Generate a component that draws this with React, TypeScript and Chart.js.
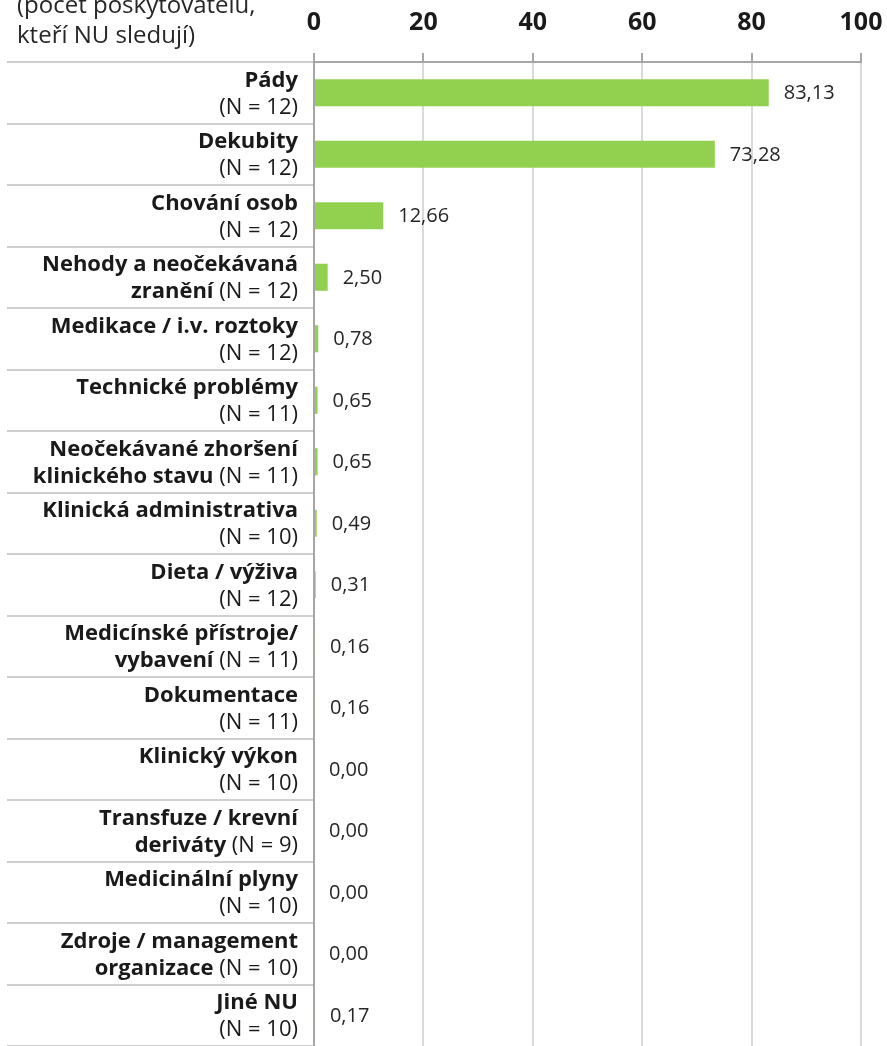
import { useEffect, useRef } from "react";
import { Chart, registerables } from "chart.js";

Chart.register(...registerables);

// ---- data ----
const titleLines = ["(počet poskytovatelů,", "kteří NU sledují)"];
const boldLine1 = [
  "Pády",
  "Dekubity",
  "Chování osob",
  "Nehody a neočekávaná",
  "Medikace / i.v. roztoky",
  "Technické problémy",
  "Neočekávané zhoršení",
  "Klinická administrativa",
  "Dieta / výživa",
  "Medicínské přístroje/",
  "Dokumentace",
  "Klinický výkon",
  "Transfuze / krevní",
  "Medicinální plyny",
  "Zdroje / management",
  "Jiné NU",
];
const boldLine2 = [
  "",
  "",
  "",
  "zranění",
  "",
  "",
  "klinického stavu",
  "",
  "",
  "vybavení",
  "",
  "",
  "deriváty",
  "",
  "organizace",
  "",
];
const providerCounts = [12, 12, 12, 12, 12, 11, 11, 10, 12, 11, 11, 10, 9, 10, 10, 10];
const rates = [83.13, 73.28, 12.66, 2.5, 0.78, 0.65, 0.65, 0.49, 0.31, 0.16, 0.16, 0.0, 0.0, 0.0, 0.0, 0.17];
const xMin = 0;
const xMax = 100;
const xStep = 20;

const FONT = "'Open Sans'";
const TEXT = "#1a1a1a";
const LABEL_SIZE = 22;

const textPlugin = {
  id: "customText",
  afterDraw(chart: any) {
    const ctx = chart.ctx as CanvasRenderingContext2D;
    const yScale = chart.scales.y;
    ctx.save();
    ctx.fillStyle = "#262626";
    ctx.textAlign = "left";
    ctx.textBaseline = "alphabetic";
    ctx.font = `24px ${FONT}`;
    ctx.fillText(titleLines[0], 17, 13);
    ctx.fillText(titleLines[1], 17, 43);

    ctx.fillStyle = TEXT;
    const right = 298;
    boldLine1.forEach((l1, i) => {
      const c = yScale.getPixelForValue(i);
      const nText = `(N = ${providerCounts[i]})`;
      const lines: [string, boolean][][] = [
        [[l1, true]],
        boldLine2[i] ? [[boldLine2[i], true], [" " + nText, false]] : [[nText, false]],
      ];
      lines.forEach((segs, li) => {
        const base = c + (li === 0 ? -6 : 21);
        let total = 0;
        const widths = segs.map(([t, b]) => {
          ctx.font = `${b ? "bold " : ""}${LABEL_SIZE}px ${FONT}`;
          const w = ctx.measureText(t).width;
          total += w;
          return w;
        });
        let x = right - total;
        segs.forEach(([t, b], k) => {
          ctx.font = `${b ? "bold " : ""}${LABEL_SIZE}px ${FONT}`;
          ctx.fillText(t, x, base);
          x += widths[k];
        });
      });
    });

    // value labels
    const meta = chart.getDatasetMeta(0);
    ctx.font = `20px ${FONT}`;
    ctx.fillStyle = "#262626";
    ctx.textBaseline = "middle";
    meta.data.forEach((bar: any, i: number) => {
      const label = rates[i].toFixed(2).replace(".", ",");
      ctx.fillText(label, bar.x + 15, bar.y + 1);
    });
    ctx.restore();
  },
};

export default function App() {
  const ref = useRef<HTMLCanvasElement>(null);
  useEffect(() => {
    document.body.style.margin = "0";
    const canvas = ref.current!;
    const chart = new Chart(canvas, {
      type: "bar",
      data: {
        labels: boldLine1.map((l, i) => (boldLine2[i] ? `${l} ${boldLine2[i]}` : l)),
        datasets: [
          {
            data: rates,
            backgroundColor: "#92d050",
            borderWidth: 0,
            barPercentage: 0.44,
            categoryPercentage: 1,
          },
        ],
      },
      options: {
        indexAxis: "y",
        responsive: false,
        devicePixelRatio: 1,
        animation: false,
        layout: { padding: { left: 0, right: 26, top: 0, bottom: 0 } },
        plugins: { legend: { display: false }, tooltip: { enabled: false } },
        scales: {
          x: {
            position: "top",
            min: xMin,
            max: xMax,
            ticks: {
              stepSize: xStep,
              padding: 15,
              color: TEXT,
              font: { family: "Open Sans", size: 25, weight: "bold" },
            },
            grid: { color: "#dadada", lineWidth: 2, tickColor: "#a6a6a6", tickLength: 9 },
            border: { color: "#a6a6a6", width: 2 },
            afterFit: (s: any) => {
              s.height = 62;
              s.paddingLeft = 0;
              s.paddingRight = 0;
            },
          },
          y: {
            position: "left",
            offset: true,
            ticks: { display: false },
            grid: {
              offset: true,
              drawOnChartArea: false,
              tickLength: 307,
              color: "#cfcfcf",
              lineWidth: 2,
            },
            border: { color: "#a6a6a6", width: 2 },
            afterFit: (s: any) => {
              s.width = 314;
              s.paddingTop = 0;
              s.paddingBottom = 0;
            },
          },
        },
      },
      plugins: [textPlugin],
    } as any);
    return () => chart.destroy();
  }, []);
  return <canvas ref={ref} width={887} height={1046} style={{ display: "block" }} />;
}
